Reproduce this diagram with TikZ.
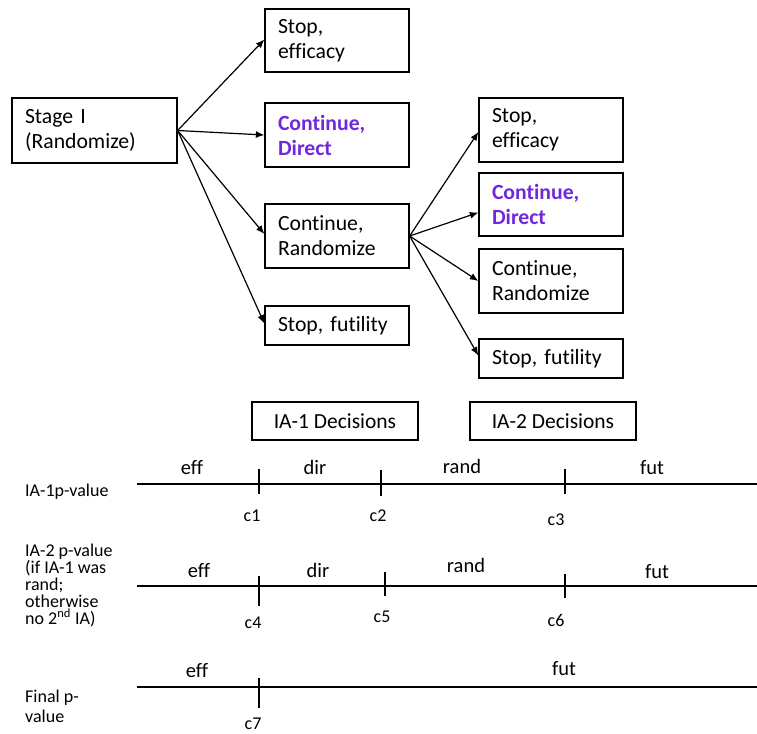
\documentclass[tikz,border=0pt]{standalone}
\usepackage{fontspec}
\setmainfont{Carlito}[Ligatures={NoCommon}]
\usetikzlibrary{arrows.meta}
\definecolor{vio}{RGB}{112,40,220}
\begin{document}
\frenchspacing
\begin{tikzpicture}[x=1pt,y=-1pt,
  box/.style={draw,line width=1.3pt,minimum width=144pt,text width=118pt,align=left,
    inner xsep=13pt,inner ysep=0pt,font=\fontsize{21.7}{25}\selectfont},
  dec/.style={draw,line width=1.3pt,minimum width=166pt,minimum height=38pt,inner sep=0pt,
    font=\fontsize{21.5}{25}\selectfont},
  hi/.style={text=vio,font=\fontsize{21.7}{25}\selectfont\bfseries},
  arr/.style={line width=1.2pt,-{Latex[length=8.5pt,width=7pt]}},
  axis/.style={line width=1.5pt},
  tick/.style={line width=1.5pt},
  seg/.style={anchor=base,inner sep=0pt,font=\fontsize{20.5}{24}\selectfont},
  cut/.style={anchor=base,inner sep=0pt,font=\fontsize{18}{21}\selectfont},
  lab/.style={anchor=base west,inner sep=0pt,align=left,font=\fontsize{18}{16.8}\selectfont}]
\useasboundingbox (0,0) rectangle (757,733);
% tree
\node[box,minimum width=165pt,text width=139pt,minimum height=65pt] (s) at (94.5,130.5) {Stage I\\(Randomize)};
\node[box,minimum height=63pt] (e1) at (337,40.5) {Stop,\\efficacy};
\node[box,minimum height=64pt,hi] (d1) at (337,135) {Continue,\\Direct};
\node[box,minimum height=64pt] (r1) at (337,236) {Continue,\\Randomize};
\node[box,minimum height=39pt] (f1) at (337,325.5) {Stop, futility};
\node[box,minimum height=64pt] (e2) at (551,130) {Stop,\\efficacy};
\node[box,minimum height=63pt,hi] (d2) at (551,204.5) {Continue,\\Direct};
\node[box,minimum height=64pt] (r2) at (551,281) {Continue,\\Randomize};
\node[box,minimum height=39pt] (f2) at (551,358.5) {Stop, futility};
\draw[arr] (s.east) -- ([yshift=1pt]e1.west);
\draw[arr] (s.east) -- (d1.west);
\draw[arr] (s.east) -- ([yshift=2pt]r1.west);
\draw[arr] (s.east) -- ([yshift=2pt]f1.west);
\draw[arr] (r1.east) -- ([yshift=-2pt]e2.west);
\draw[arr] (r1.east) -- ([yshift=-8pt]d2.west);
\draw[arr] (r1.east) -- (r2.west);
\draw[arr] (r1.east) -- ([yshift=3pt]f2.west);
% decisions
\node[dec] (ia1) at (335,421) {IA-1 Decisions};
\node[dec] (ia2) at (553,421) {IA-2 Decisions};
% axis 1
\coordinate (a1s) at (137,484); \coordinate (a1e) at (757,484);
\draw[axis] (a1s) -- (a1e);
\coordinate (t1a) at (259,469); \coordinate (t1b) at (259,494);
\coordinate (t2a) at (381,470); \coordinate (t2b) at (381,496);
\coordinate (t3a) at (565,469); \coordinate (t3b) at (565,494);
\draw[tick] (t1a) -- (t1b); \draw[tick] (t2a) -- (t2b); \draw[tick] (t3a) -- (t3b);
\node[lab] (l1) at (25,496) {IA-1p-value};
\node[seg] (s1a) at (192,474) {eff};
\node[seg] (s1b) at (315,474) {dir};
\node[seg] (s1c) at (462,473) {rand};
\node[seg] (s1d) at (652,474) {fut};
\node[cut] (c1) at (252,521) {c1};
\node[cut] (c2) at (378,521) {c2};
\node[cut] (c3) at (556,525) {c3};
% axis 2
\coordinate (a2s) at (137,586); \coordinate (a2e) at (757,586);
\draw[axis] (a2s) -- (a2e);
\coordinate (t4a) at (259,576); \coordinate (t4b) at (259,606);
\coordinate (t5a) at (385,572); \coordinate (t5b) at (385,596);
\coordinate (t6a) at (565,574); \coordinate (t6b) at (565,598);
\draw[tick] (t4a) -- (t4b); \draw[tick] (t5a) -- (t5b); \draw[tick] (t6a) -- (t6b);
\node[lab] (l2) at (25,624) {IA-2 p-value\\(if IA-1 was\\rand;\\otherwise\\no 2\textsuperscript{nd} IA)};
\node[seg] (s2a) at (199,577) {eff};
\node[seg] (s2b) at (318,577) {dir};
\node[seg] (s2c) at (466,572) {rand};
\node[seg] (s2d) at (657,578) {fut};
\node[cut] (c4) at (253,628) {c4};
\node[cut] (c5) at (382,622) {c5};
\node[cut] (c6) at (556,626) {c6};
% axis 3
\coordinate (a3s) at (137,687); \coordinate (a3e) at (757,687);
\draw[axis] (a3s) -- (a3e);
\coordinate (t7a) at (259,678); \coordinate (t7b) at (259,708);
\draw[tick] (t7a) -- (t7b);
\node[lab,font=\fontsize{18}{20}\selectfont] (l3) at (25,722) {Final p-\\value};
\node[seg] (s3a) at (197,677) {eff};
\node[seg] (s3b) at (564,675) {fut};
\node[cut] (c7) at (253,729) {c7};
\end{tikzpicture}
\end{document}
